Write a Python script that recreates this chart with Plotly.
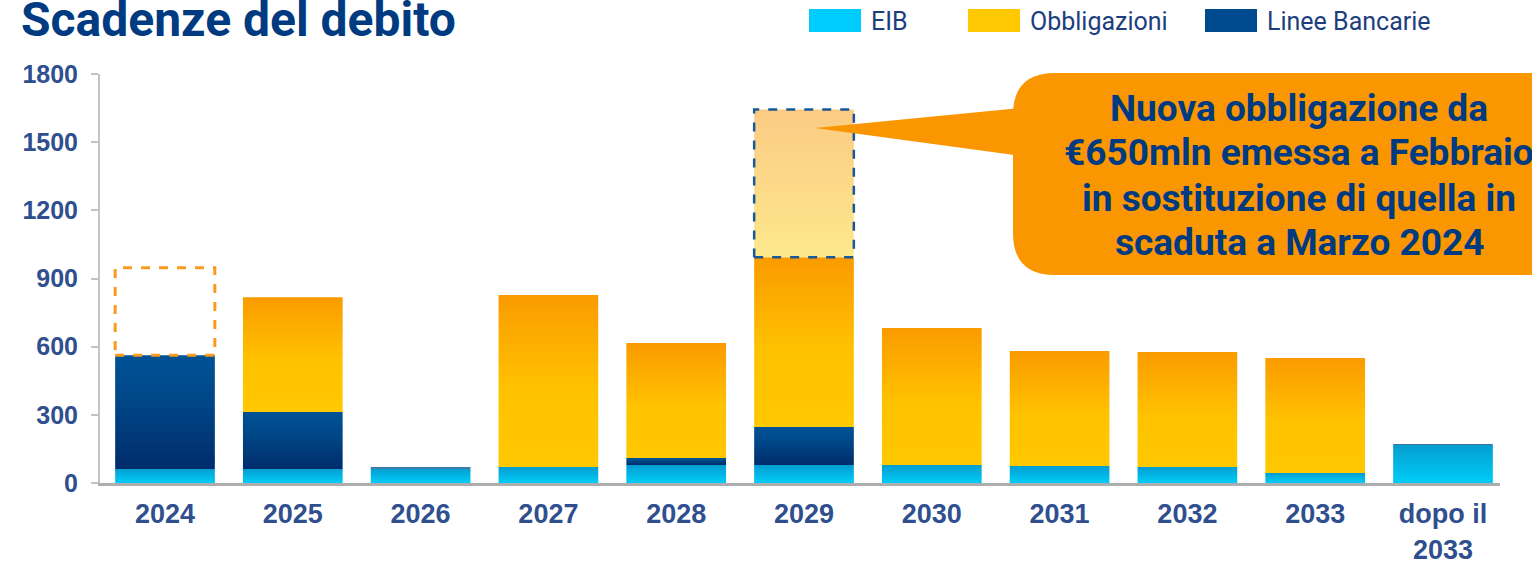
import plotly.graph_objects as go

# ---------------- data ----------------
categories = ["2024", "2025", "2026", "2027", "2028", "2029",
              "2030", "2031", "2032", "2033", "dopo il<br>2033"]
eib = [62, 62, 64, 70, 79, 79, 79, 75, 70, 44, 167]
linee_bancarie = [500, 250, 5, 0, 31, 167, 0, 0, 0, 0, 4]
obbligazioni = [0, 506, 0, 757, 506, 748, 603, 506, 506, 506, 0]
nuova_obbligazione = [0, 0, 0, 0, 0, 650, 0, 0, 0, 0, 0]   # new bond (Feb) shown in 2029
obbligazione_rimborsata = [385, 0, 0, 0, 0, 0, 0, 0, 0, 0, 0]  # replaced bond, 2024
y_ticks = [0, 300, 600, 900, 1200, 1500, 1800]
callout_lines = ["Nuova obbligazione da", "€650mln emessa a Febbraio",
                 "in sostituzione di quella in", "scaduta a Marzo 2024"]

# ---------------- styles ----------------
CS_EIB = [[0, "#00CCF8"], [1, "#049DCF"]]
CS_LINEE = [[0, "#002C6C"], [0.6, "#004787"], [1, "#005296"]]
CS_OBBL = [[0, "#FFC800"], [0.45, "#FFC200"], [1, "#FA9B00"]]
CS_NUOVA = [[0, "#FDE88C"], [1, "#FBCB84"]]
TXT = "#2F4F8F"
DARK = "#003A80"
HW = 0.39

fig = go.Figure()


def segment(i, base, val, cs, name):
    if val <= 0:
        return
    x = [i - HW, i + HW, i + HW, i - HW, i - HW]
    y = [base, base, base + val, base + val, base]
    fig.add_trace(go.Scatter(
        x=x, y=y, mode="none", fill="toself",
        fillgradient=dict(type="vertical", colorscale=cs),
        name=name, showlegend=False, hoveron="fills",
        text=f"{name}: {val}", hoverinfo="text"))


for i in range(len(categories)):
    b = 0
    segment(i, b, eib[i], CS_EIB, "EIB")
    b += eib[i]
    segment(i, b, linee_bancarie[i], CS_LINEE, "Linee Bancarie")
    b += linee_bancarie[i]
    segment(i, b, obbligazioni[i], CS_OBBL, "Obbligazioni")
    b += obbligazioni[i]
    if nuova_obbligazione[i] > 0:
        v = nuova_obbligazione[i]
        fig.add_trace(go.Scatter(
            x=[i - HW, i + HW, i + HW, i - HW, i - HW],
            y=[b, b, b + v, b + v, b], mode="lines", fill="toself",
            fillgradient=dict(type="vertical", colorscale=CS_NUOVA),
            line=dict(color="#1A5796", width=2.5, dash="dash"),
            showlegend=False, hoverinfo="text", text=f"Nuova obbligazione: {v}"))
    if obbligazione_rimborsata[i] > 0:
        v = obbligazione_rimborsata[i]
        fig.add_trace(go.Scatter(
            x=[i - HW, i + HW, i + HW, i - HW, i - HW],
            y=[b, b, b + v, b + v, b], mode="lines",
            line=dict(color="#F99A1C", width=3, dash="dash"),
            showlegend=False, hoverinfo="text", text=f"Obbligazione rimborsata: {v}"))

# ---------------- layout helpers (pixel -> paper) ----------------
L, T, W, H = 100, 74, 1400, 409
FW, FH = 1532, 561


def px(xp):
    return (xp - L) / W


def py(yp):
    return (T + H - yp) / H


shapes = []
annotations = []

# legend
legend_items = [("EIB", "#00CCFF", 809, 861), ("Obbligazioni", "#FFC800", 968, 1020),
                ("Linee Bancarie", "#004B8F", 1205, 1257)]
for name, col, x0, x1 in legend_items:
    shapes.append(dict(type="rect", xref="paper", yref="paper",
                       x0=px(x0), x1=px(x1), y0=py(32), y1=py(9),
                       fillcolor=col, line=dict(width=0), layer="above"))
    annotations.append(dict(text=name, xref="paper", yref="paper",
                            x=px(x1 + 8), y=py(21), xanchor="left", yanchor="middle",
                            showarrow=False,
                            font=dict(family="Roboto", size=25, color="#1D3E7E")))

# callout
ORG = "#F99600"
r = 42
bx0, bx1, by0, by1 = 1013, 1600, 73, 275
path = (f"M {px(bx0 + r)},{py(by0)} L {px(bx1)},{py(by0)} L {px(bx1)},{py(by1)} "
        f"L {px(bx0 + r)},{py(by1)} Q {px(bx0)},{py(by1)} {px(bx0)},{py(by1 - r)} "
        f"L {px(bx0)},{py(by0 + r)} Q {px(bx0)},{py(by0)} {px(bx0 + r)},{py(by0)} Z")
shapes.append(dict(type="path", xref="paper", yref="paper", path=path,
                   fillcolor=ORG, line=dict(width=0), layer="above"))
tri = f"M {px(1030)},{py(107)} L {px(815)},{py(128)} L {px(1030)},{py(157)} Z"
shapes.append(dict(type="path", xref="paper", yref="paper", path=tri,
                   fillcolor=ORG, line=dict(width=0), layer="above"))
for k, line in enumerate(callout_lines):
    annotations.append(dict(
        text=line, xref="paper", yref="paper", x=px(1299), y=py(108 + 45 * k),
        xanchor="center", yanchor="middle", align="center", showarrow=False,
        font=dict(family="Roboto", size=37, color=DARK, weight="bold")))

# title
annotations.append(dict(text="Scadenze del debito", xref="paper", yref="paper",
                        x=px(19), y=py(20), xanchor="left", yanchor="middle",
                        showarrow=False,
                        font=dict(family="Roboto", size=48, color=DARK, weight="bold")))

fig.update_layout(
    width=FW, height=FH,
    margin=dict(l=L, r=FW - L - W, t=T, b=FH - T - H, autoexpand=False),
    paper_bgcolor="white", plot_bgcolor="white",
    showlegend=False, shapes=shapes, annotations=annotations,
    xaxis=dict(range=[-0.5086, 10.446], tickmode="array",
               tickvals=list(range(len(categories))), ticktext=categories,
               showgrid=False, zeroline=False, showline=True, automargin=False,
               linecolor="#ADADAD", linewidth=3, ticks="", ticklabelstandoff=5,
               tickfont=dict(family="Liberation Sans", size=27, color=TXT, weight="bold")),
    yaxis=dict(range=[0, 1800], tickmode="array", tickvals=y_ticks,
               showgrid=False, zeroline=False, showline=True, automargin=False,
               linecolor="#C3C3C3", linewidth=2, ticks="outside", ticklen=7,
               tickcolor="#C3C3C3", tickwidth=2, ticklabelstandoff=8,
               tickfont=dict(family="Liberation Sans", size=25, color=TXT, weight="bold")),
)

fig.write_html("out.html", config={"displayModeBar": False},
               post_script="document.body.style.margin='0';document.body.style.overflow='hidden';")
